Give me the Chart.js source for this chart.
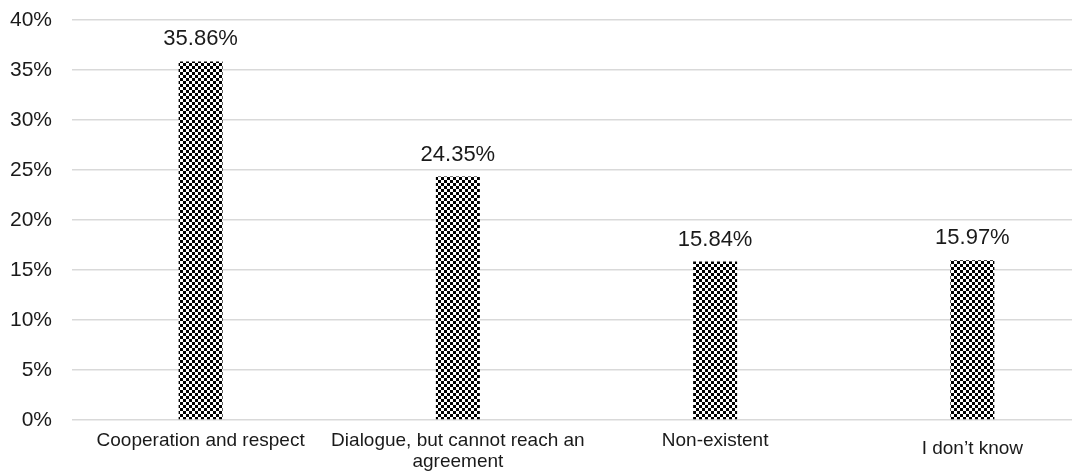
<!DOCTYPE html>
<html>
<head>
<meta charset="utf-8">
<script src="https://cdn.jsdelivr.net/npm/chart.js@4.4.1/dist/chart.umd.min.js"></script>
<style>
    html, body { margin: 0; padding: 0; background: #fff; overflow: hidden; }
    #wrap { width: 1101px; height: 472px; position: relative; }
</style>
</head>
<body>
<div id="wrap"><canvas id="relationChart"></canvas></div>
<script>
// values
const categories = [
    'Cooperation and respect',
    ['Dialogue, but cannot reach an', 'agreement'],
    'Non-existent',
    'I don\u2019t know'
];
const shares = [35.86, 24.35, 15.84, 15.97];
const yTicks = [0, 5, 10, 15, 20, 25, 30, 35, 40];

const FONT = '"Liberation Sans", Arial, sans-serif';
const TEXT = '#1a1a1a';

// small black/white checker board like the Excel fill
function checkerPattern(ctx) {
    const tile = document.createElement('canvas');
    tile.width = 6;
    tile.height = 6;
    const t = tile.getContext('2d');
    t.fillStyle = '#fff';
    t.fillRect(0, 0, 6, 6);
    t.fillStyle = '#000';
    t.fillRect(0, 0, 3, 3);
    t.fillRect(3, 3, 3, 3);
    return ctx.createPattern(tile, 'repeat');
}

// value labels above the bars
const barLabels = {
    id: 'barLabels',
    afterDatasetsDraw(chart) {
        const ctx = chart.ctx;
        const meta = chart.getDatasetMeta(0);
        ctx.save();
        ctx.font = '22px ' + FONT;
        ctx.fillStyle = TEXT;
        ctx.textAlign = 'center';
        ctx.textBaseline = 'alphabetic';
        meta.data.forEach((bar, i) => {
            ctx.fillText(shares[i].toFixed(2) + '%', bar.x, bar.y - 16);
        });
        ctx.restore();
    }
};

// the plot runs past the window; gridlines stop at 1072px
const clipRight = {
    id: 'clipRight',
    beforeDraw(chart) {
        chart.ctx.save();
        chart.ctx.beginPath();
        chart.ctx.rect(0, 0, 1072, chart.height);
        chart.ctx.clip();
    },
    afterDraw(chart) {
        chart.ctx.restore();
    }
};

document.addEventListener('DOMContentLoaded', () => {
    initializeRelationChart();
});

function initializeRelationChart() {
    const ctx = document.getElementById('relationChart').getContext('2d');
    new Chart(ctx, {
        type: 'bar',
        data: {
            labels: categories,
            datasets: [{
                data: shares,
                backgroundColor: checkerPattern(ctx),
                borderWidth: 0,
                categoryPercentage: 1,
                barPercentage: 0.171
            }]
        },
        options: {
            responsive: true,
            maintainAspectRatio: false,
            animation: false,
            layout: {
                padding: { top: 20, right: 0, bottom: 0, left: 0 }
            },
            plugins: {
                legend: { display: false },
                tooltip: { enabled: false }
            },
            scales: {
                x: {
                    grid: { display: false, drawTicks: false },
                    border: { display: false },
                    ticks: {
                        color: TEXT,
                        padding: 10,
                        maxRotation: 0,
                        autoSkip: false,
                        font: (c) => ({
                            family: FONT,
                            size: 19,
                            lineHeight: c.index === 3 ? 2.0 : 1.1
                        })
                    },
                    afterFit: (scale) => { scale.height = 52; }
                },
                y: {
                    min: yTicks[0],
                    max: yTicks[yTicks.length - 1],
                    afterBuildTicks: (scale) => {
                        scale.ticks = yTicks.map(v => ({ value: v }));
                    },
                    grid: { color: '#d9d9d9', lineWidth: 1.5, drawTicks: false },
                    border: { display: false },
                    ticks: {
                        color: TEXT,
                        padding: 20,
                        font: { family: FONT, size: 21 },
                        callback: (v) => v + '%'
                    },
                    afterFit: (scale) => {
                        scale.width = 72;
                        scale.paddingTop = 0;
                        scale.paddingBottom = 0;
                    }
                }
            }
        },
        plugins: [barLabels, clipRight]
    });
}
</script>
</body>
</html>
